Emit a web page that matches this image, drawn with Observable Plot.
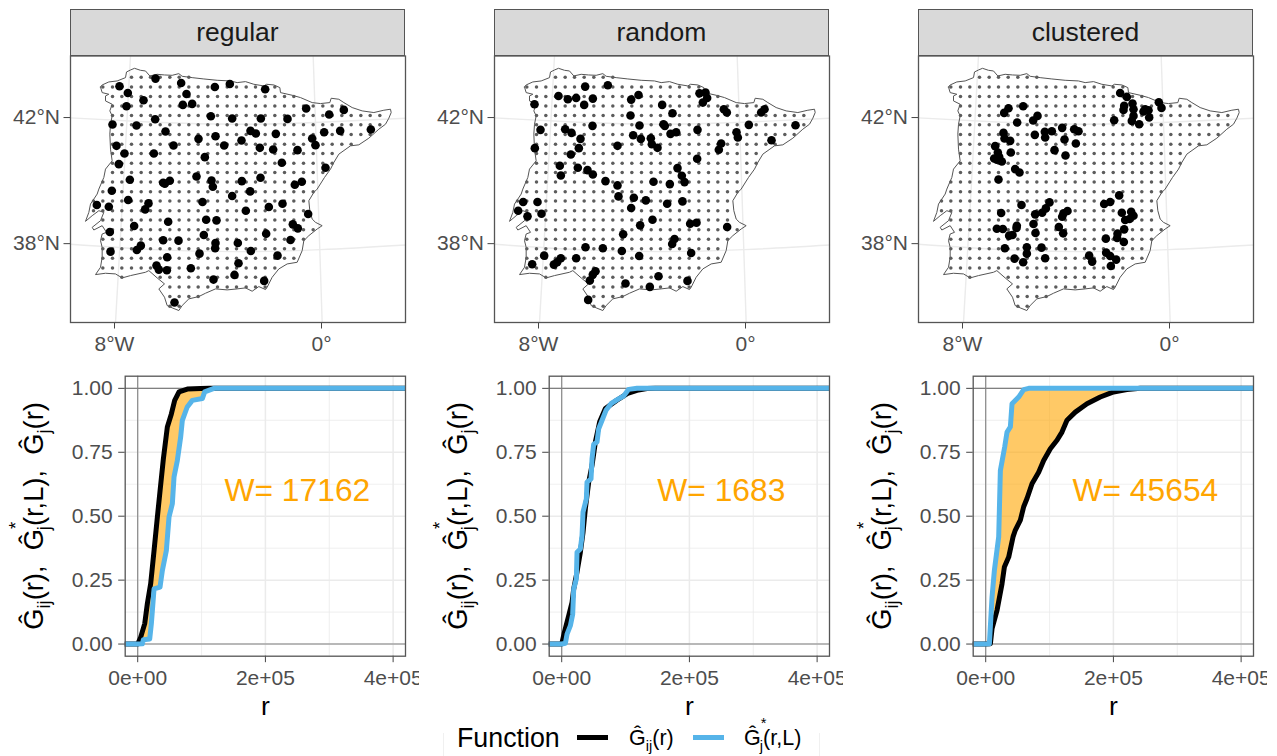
<!DOCTYPE html>
<html>
<head>
<meta charset="utf-8">
<script src="https://cdn.jsdelivr.net/npm/d3@7"></script>
<script src="https://cdn.jsdelivr.net/npm/@observablehq/plot@0.6"></script>
<style>
html,body{margin:0;padding:0;background:#fff;width:1277px;height:756px;overflow:hidden;font-family:"Liberation Sans",Arial,sans-serif}
#stage{position:absolute;left:0;top:0;width:1277px;height:756px;overflow:hidden}
#stage svg{position:absolute;overflow:hidden;max-width:none}
.strip{position:absolute;box-sizing:border-box;width:335.5px;height:46.5px;top:9px;background:#D9D9D9;border:1.3px solid #555;color:#1A1A1A;font-size:26.5px;text-align:center;line-height:45px}
.ylab{position:absolute;top:516px;transform:translate(-50%,-50%) rotate(-90deg);white-space:nowrap;font-size:27.3px;line-height:1;color:#000}
.ylab .s,.leg .s{position:relative;font-size:.68em;top:.4em}
.ylab .u,.leg .u{position:relative;font-size:.68em;top:-1.15em;margin-right:-.45em}
.leg{position:absolute;white-space:nowrap;color:#000}
.key{position:absolute;height:5px;top:735px;width:31px}
</style>
</head>
<body>
<div id="stage"></div>
<script>
// Map units: projected coordinates
const outline = [[100,108],[105,102],[125,93],[150,90],[175,80],[178,63],[190,57],[202,52],[220,58],[235,60],[248,75],[270,70],[292,72],[315,73],[335,68],[345,76],[375,80],[410,84],[450,88],[490,90],[510,95],[535,92],[560,100],[590,105],[598,100],[620,102],[638,110],[640,125],[675,133],[700,140],[735,155],[760,158],[788,155],[792,142],[815,145],[830,155],[855,170],[885,180],[920,185],[950,178],[970,175],[972,185],[965,202],[955,220],[935,235],[905,262],[875,282],[850,285],[815,310],[800,335],[790,355],[772,380],[750,415],[740,425],[725,450],[728,480],[735,505],[745,515],[765,525],[750,535],[725,555],[710,570],[705,600],[690,635],[660,640],[635,655],[615,680],[600,710],[595,717],[575,708],[555,722],[535,712],[510,715],[480,718],[445,715],[415,728],[395,738],[365,745],[345,765],[335,780],[315,772],[300,765],[292,740],[275,715],[292,700],[270,682],[245,660],[235,665],[190,675],[165,682],[145,670],[115,668],[85,672],[100,650],[105,620],[105,590],[100,570],[105,550],[118,545],[105,525],[80,538],[75,530],[100,510],[110,485],[95,480],[75,495],[55,512],[65,485],[70,460],[90,430],[95,415],[110,380],[115,355],[135,330],[130,295],[128,250],[130,220],[135,195],[128,180],[135,160],[115,150],[115,135],[125,130],[105,125],[100,108]];
const gridXs = [79,107,136,164,193,222,250,279,308,336,365,393,422,451,480,508,537,565,594,623,652,680,709,738,767,795,824,852,881,909,938];
const gridYs = [79,108,137,165,194,222,251,280,308,337,365,394,423,451,480,508,537,566,594,623,652,680,709,738,767];
const meridian8W = [[190,15],[168,415],[145,816]];
const meridian0 = [[738,15],[752,415],[765,816]];
const parallel42 = [[10,201],[260,214],[510,220],[760,214],[1015,202]];
const parallel38 = [[10,581],[260,597],[510,603],[760,597],[1015,583]];
const mapXTicks = [142,763], mapXLabels = ["8°W","0°"];
const mapYTicks = [200,579], mapYLabels = ["42°N","38°N"];

const regularPts = [[177,256],[285,233],[362,246],[463,258],[508,249],[614,265],[202,276],[378,279],[249,298],[198,316],[367,312],[395,309],[737,323],[850,327],[806,341],[451,346],[515,353],[601,353],[681,354],[284,355],[156,371],[228,374],[315,392],[570,390],[586,398],[646,399],[791,394],[839,390],[931,386],[414,414],[465,406],[543,419],[755,413],[765,433],[168,435],[339,434],[491,434],[598,441],[638,446],[711,448],[192,458],[280,458],[433,469],[664,486],[175,490],[795,501],[408,527],[600,531],[208,537],[453,539],[544,541],[328,540],[313,549],[308,546],[724,543],[703,552],[457,558],[154,570],[569,572],[515,586],[203,598],[264,608],[426,604],[666,609],[109,613],[145,618],[254,626],[625,619],[556,630],[743,640],[323,663],[437,657],[468,659],[697,671],[712,683],[221,676],[148,694],[617,699],[430,703],[690,718],[308,719],[354,720],[465,727],[532,727],[241,735],[229,748],[464,743],[150,753],[571,751],[417,759],[651,765],[320,770],[534,788],[288,795],[295,807],[319,809],[391,803],[522,823],[459,837],[611,841],[342,906]];
const randomPts = [[284,107],[352,103],[204,135],[232,145],[257,141],[307,143],[281,162],[132,160],[422,146],[444,132],[515,162],[627,127],[645,125],[650,141],[637,155],[546,187],[420,194],[700,175],[709,185],[812,185],[822,175],[306,225],[447,224],[519,220],[523,225],[775,222],[915,223],[150,237],[224,235],[243,246],[621,237],[540,249],[557,244],[738,244],[742,260],[428,253],[451,264],[481,262],[484,280],[501,291],[270,264],[843,268],[692,278],[685,297],[133,292],[381,285],[265,292],[241,311],[620,324],[208,345],[262,351],[291,358],[307,371],[211,374],[561,352],[574,375],[582,394],[345,391],[489,393],[538,400],[381,404],[384,437],[430,441],[466,449],[98,454],[141,454],[576,452],[530,459],[422,472],[83,480],[153,489],[111,497],[486,507],[449,524],[599,519],[618,516],[710,529],[398,551],[552,565],[545,580],[285,590],[337,593],[394,601],[602,607],[161,615],[446,616],[257,623],[211,623],[200,635],[190,642],[125,641],[315,662],[307,672],[298,690],[504,677],[405,699],[591,691],[478,709],[293,748]];
const clusteredPts = [[615,126],[635,138],[627,165],[625,177],[652,158],[655,175],[690,175],[700,178],[685,182],[731,154],[739,171],[702,200],[655,195],[650,210],[672,220],[597,208],[280,172],[267,186],[324,166],[367,195],[354,209],[306,215],[441,231],[477,235],[490,241],[389,243],[410,241],[265,246],[359,252],[390,260],[268,263],[285,270],[448,266],[482,278],[240,286],[287,305],[418,298],[451,314],[248,305],[252,318],[237,323],[245,327],[260,332],[300,355],[313,365],[250,386],[612,434],[403,455],[319,463],[567,460],[585,454],[392,473],[381,486],[457,481],[445,488],[441,498],[360,491],[258,487],[620,486],[648,483],[655,495],[643,505],[630,508],[355,520],[305,525],[304,532],[431,529],[245,534],[263,535],[444,548],[361,547],[627,536],[292,553],[282,555],[607,549],[606,562],[572,564],[626,574],[269,593],[335,590],[379,591],[335,609],[390,623],[298,624],[324,635],[522,615],[531,633],[573,606],[585,616],[603,627],[587,646]];

// Distance functions, [r, G]
const regularGij = [[-20000,0],[0,0],[4700,.027],[11000,.08],[15100,.158],[20300,.236],[25600,.366],[30800,.497],[35000,.6],[40200,.725],[46400,.849],[52700,.9],[57900,.953],[64700,.986],[77700,.997],[98600,.9995],[111600,1],[420000,1]];
const regularGstar = [[-20000,0],[0,0],[7300,.001],[8870,.017],[18780,.02],[21390,.08],[25560,.216],[34950,.223],[38600,.288],[44860,.366],[49030,.497],[54250,.549],[56850,.653],[62070,.718],[67290,.81],[69890,.875],[77510,.927],[85540,.953],[101190,.96],[104840,.986],[119450,1],[420000,1]];
const randomGij = [[-20000,0],[0,0],[4170,.046],[10950,.111],[16170,.163],[18780,.215],[23990,.282],[29210,.359],[33380,.437],[37030,.529],[42250,.633],[47470,.699],[52680,.79],[59460,.869],[68370,.921],[86060,.953],[103270,.98],[117880,.992],[133530,.999],[146560,1],[420000,1]];
const randomGstar = [[-20000,0],[0,0],[5740,.003],[8350,.039],[13560,.072],[17200,.117],[18780,.215],[22950,.255],[23990,.359],[29210,.372],[31820,.424],[33380,.516],[38600,.568],[39640,.633],[45900,.646],[47470,.725],[50070,.781],[55290,.79],[57900,.842],[64160,.881],[69370,.914],[77200,.94],[87630,.957],[97020,.97],[104840,.996],[117880,1],[420000,1]];
const clusteredGij = [[-20000,0],[0,0],[7300,.001],[9910,.06],[17730,.132],[25560,.236],[29210,.301],[35990,.34],[42770,.419],[46420,.446],[54250,.485],[59460,.537],[64680,.569],[72500,.627],[82930,.672],[90760,.718],[101190,.764],[111620,.797],[119450,.829],[127270,.875],[140310,.907],[158570,.94],[179430,.966],[200290,.986],[221160,.995],[242020,1],[420000,1]];
const clusteredGstar = [[-20000,0],[0,0],[5740,.001],[9910,.184],[13560,.288],[20340,.419],[22950,.679],[29730,.771],[33380,.829],[38600,.849],[41210,.94],[51640,.966],[59460,.995],[67290,1],[420000,1]];

const panelNames = ["regular","random","clustered"];
const panelPts = [regularPts, randomPts, clusteredPts];
const ptOffsets = [[20,150],[2,0],[0,0]];   // reading frames of the three point lists
const panelGij = [regularGij, randomGij, clusteredGij];
const panelGstar = [regularGstar, randomGstar, clusteredGstar];
const wLabels = ["W= 17162","W= 1683","W= 45654"];
const rMajor = [0,200000,400000], rMinor = [100000,300000];
const rLabels = ["0e+00","2e+05","4e+05"];
const gMajor = [0,.25,.5,.75,1], gMinor = [.125,.375,.625,.875];
const gLabels = ["0.00","0.25","0.50","0.75","1.00"];

const FONT = '"Liberation Sans",Arial,sans-serif';
const stage = document.getElementById("stage");
const colW = 424, svgW = 419;
const mapDots = gridYs.flatMap(y => gridXs.filter(x => d3.polygonContains(outline,[x,y])).map(x => [x,y]));

function place(svg,left,top){svg.style.left=left+"px";svg.style.top=top+"px";stage.appendChild(svg);}
function lookup(c){return d3.scaleLinear().domain(c.map(d=>d[0])).range(c.map(d=>d[1]));}

panelNames.forEach((name,i)=>{
  const left = i*colW;
  const pts = panelPts[i].map(([x,y])=>[x-ptOffsets[i][0],y-ptOffsets[i][1]]);
  const graticule = [meridian8W,meridian0,parallel42,parallel38];
  const map = Plot.plot({
    width:svgW,height:360,marginLeft:70,marginRight:14,marginTop:55.5,marginBottom:38,
    style:{background:"white",fontFamily:FONT,overflow:"hidden"},
    x:{domain:[10,1015],axis:null},y:{domain:[816,15],axis:null},
    marks:[
      ...graticule.map(g=>Plot.line(g,{x:d=>d[0],y:d=>d[1],stroke:"#EBEBEB",strokeWidth:1.4,curve:"natural"})),
      Plot.line(outline,{x:d=>d[0],y:d=>d[1],stroke:"#555",strokeWidth:1}),
      Plot.dot(mapDots,{x:d=>d[0],y:d=>d[1],r:1.75,fill:"#5c5c5c"}),
      Plot.dot(pts,{x:d=>d[0],y:d=>d[1],r:4.3,fill:"#000"}),
      Plot.axisX(mapXTicks,{x:d=>d,anchor:"bottom",tickSize:6.5,tickPadding:7,fontSize:21,stroke:"#444",fill:"#4D4D4D",tickFormat:d=>mapXLabels[mapXTicks.indexOf(d)],label:null}),
      Plot.axisY(mapYTicks,{y:d=>d,anchor:"left",tickSize:6.5,tickPadding:4,fontSize:21,stroke:"#444",fill:"#4D4D4D",tickFormat:d=>mapYLabels[mapYTicks.indexOf(d)],label:null}),
      Plot.frame({stroke:"#555",strokeWidth:1.3})
    ]
  });
  place(map,left,0);

  const strip=document.createElement("div");strip.className="strip";strip.style.left=(left+69.7)+"px";strip.textContent=name;stage.appendChild(strip);

  const gij=panelGij[i], gst=panelGstar[i];
  const lij=lookup(gij), lst=lookup(gst);
  const rs=[...new Set([...gij,...gst].map(d=>d[0]))].sort((a,b)=>a-b);
  const ribbon=rs.map(r=>({r,g1:lij(r),g2:lst(r)}));
  const g=Plot.plot({
    width:svgW,height:360,marginLeft:124.7,marginRight:14,marginTop:15.7,marginBottom:64.3,
    style:{background:"white",fontFamily:FONT,overflow:"hidden"},
    x:{domain:[-19600,419400],axis:null},y:{domain:[-0.0475,1.0475],axis:null},
    marks:[
      Plot.ruleX(rMinor,{stroke:"#EBEBEB",strokeWidth:.8}),
      Plot.ruleY(gMinor,{stroke:"#EBEBEB",strokeWidth:.8}),
      Plot.ruleX(rMajor,{stroke:"#EBEBEB",strokeWidth:1.5}),
      Plot.ruleY(gMajor,{stroke:"#EBEBEB",strokeWidth:1.5}),
      Plot.ruleY([0,1],{stroke:"#808080",strokeWidth:1.1}),
      Plot.ruleX([0],{stroke:"#808080",strokeWidth:1.1}),
      Plot.areaY(ribbon,{x:"r",y1:"g1",y2:"g2",fill:"#FFA500",fillOpacity:.6,clip:true}),
      Plot.line(gij,{x:d=>d[0],y:d=>d[1],stroke:"#000",strokeWidth:5,clip:true}),
      Plot.line(gst,{x:d=>d[0],y:d=>d[1],stroke:"#56B4E9",strokeWidth:5,clip:true}),
      Plot.text([wLabels[i]],{x:250000,y:.598,text:d=>d,fill:"#FFA500",fontSize:31.8,textAnchor:"middle"}),
      Plot.axisX(rMajor,{x:d=>d,anchor:"bottom",tickSize:6.5,tickPadding:7,fontSize:21,stroke:"#444",fill:"#4D4D4D",tickFormat:d=>rLabels[rMajor.indexOf(d)],label:null}),
      Plot.axisY(gMajor,{y:d=>d,anchor:"left",tickSize:6.5,tickPadding:6,fontSize:21,stroke:"#444",fill:"#4D4D4D",tickFormat:d=>gLabels[gMajor.indexOf(d)],label:null}),
      Plot.text(["r"],{x:200000,frameAnchor:"bottom",lineAnchor:"middle",dy:50,text:d=>d,fill:"#000",fontSize:26.5}),
      Plot.frame({stroke:"#555",strokeWidth:1.3})
    ]
  });
  place(g,left,360);

  const yl=document.createElement("div");yl.className="ylab";yl.style.left=(left+34)+"px";
  yl.innerHTML='Ĝ<span class="s">ij</span>(r),&nbsp; Ĝ<span class="u">*</span><span class="s">j</span>(r,L),&nbsp; Ĝ<span class="s">j</span>(r)';
  stage.appendChild(yl);
});

// Legend
function addHtml(cls,css,html){const d=document.createElement("div");d.className=cls;d.style.cssText=css;d.innerHTML=html;stage.appendChild(d);}
addHtml("", "position:absolute;left:443px;top:733px;width:375px;height:23px;border-left:1px solid #f0f0f0;border-right:1px solid #f0f0f0","");
addHtml("leg","left:457px;top:724px;font-size:26.8px;line-height:28px","Function");
addHtml("key","left:577px;background:#000","");
addHtml("key","left:693px;background:#56B4E9","");
addHtml("leg","left:629px;top:726px;font-size:21.5px;line-height:24px",'Ĝ<span class="s">ij</span>(r)');
addHtml("leg","left:744px;top:726px;font-size:21.5px;line-height:24px",'Ĝ<span class="u">*</span><span class="s">j</span>(r,L)');
</script>
</body>
</html>
